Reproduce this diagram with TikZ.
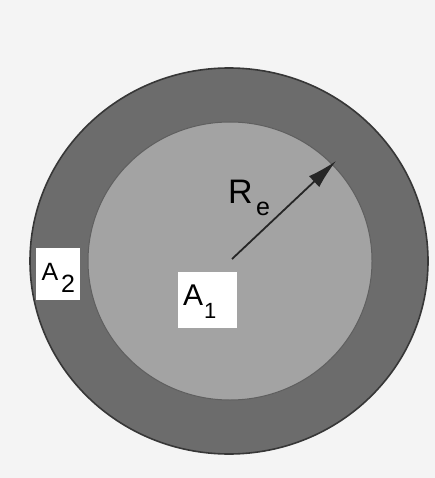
\documentclass[tikz,border=0pt]{standalone}
\usepackage{fontspec}
\setmainfont{Liberation Sans}
\usetikzlibrary{arrows.meta}
\definecolor{bgcol}{RGB}{244,244,244}
\definecolor{ringcol}{RGB}{108,108,108}
\definecolor{diskcol}{RGB}{163,163,163}
\definecolor{edgecol}{RGB}{55,55,55}
\begin{document}
\begin{tikzpicture}[x=1pt,y=-1pt,
  labelbox/.style={fill=white,draw=none,inner sep=0pt,anchor=center},
  radiusline/.style={line width=1.8pt,draw=black!85,-{Latex[length=30pt,width=15pt]}},
  ringfill/.style={fill=ringcol,draw=edgecol,line width=1.6pt},
  diskfill/.style={fill=diskcol,draw=edgecol!80,line width=1pt}]
\fill[bgcol] (0,0) rectangle (435,478);
\useasboundingbox (0,0) rectangle (435,478);
\path[ringfill] (229,261) ellipse [x radius=199, y radius=193];
\path[diskfill] (230,261) ellipse [x radius=142, y radius=139];
\coordinate (ctr) at (232,259);
\coordinate (tip) at (336,161);
\draw[radiusline] (ctr) -- (tip);
\node[labelbox,minimum width=59pt,minimum height=56pt] (a1) at (207.5,300) {};
\node[anchor=base west,inner sep=0pt] (a1t) at (183,305) {\fontsize{30}{30}\selectfont A};
\node[anchor=base west,inner sep=0pt] (a1s) at (204,318) {\fontsize{22}{22}\selectfont 1};
\node[labelbox,minimum width=44pt,minimum height=52pt] (a2) at (58,274) {};
\node[anchor=base west,inner sep=0pt] (a2t) at (41.5,280) {\fontsize{25}{25}\selectfont A};
\node[anchor=base west,inner sep=0pt] (a2s) at (61,292) {\fontsize{25}{25}\selectfont 2};
\node[anchor=base west,inner sep=0pt] (ret) at (228,203) {\fontsize{34}{34}\selectfont R};
\node[anchor=base west,inner sep=0pt] (res) at (256,215) {\fontsize{25}{25}\selectfont e};
\end{tikzpicture}
\end{document}
